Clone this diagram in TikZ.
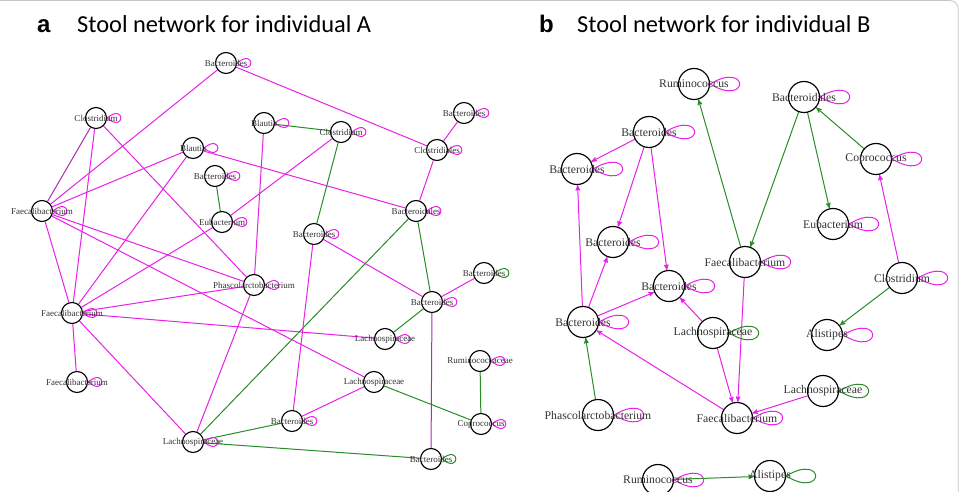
\documentclass[tikz,border=0pt]{standalone}
\usepackage{fontspec}
\setmainfont{Liberation Serif}
\newfontfamily\titlefont{Carlito}
\newfontfamily\panelfont{Liberation Sans}
\usepackage{tikz}
\usetikzlibrary{arrows,backgrounds}
\definecolor{posedge}{RGB}{232,32,232}
\definecolor{negedge}{RGB}{40,140,40}
\definecolor{bothedge}{RGB}{170,45,180}
\definecolor{taxtext}{RGB}{50,50,50}
\tikzset{
    taxon/.style={
           circle,
           draw=black,
           fill=white,
           line width=1.15pt,
           inner sep=0pt,
           },
    taxa/.style={taxon,minimum size=21pt,
           label={[font=\fontsize{9}{9}\selectfont,text=taxtext,inner sep=0pt]center:#1}},
    taxb/.style={taxon,minimum size=31pt,
           label={[font=\fontsize{11.7}{12}\selectfont,text=taxtext,inner sep=0pt]center:#1}},
}

\begin{document}
\begin{tikzpicture}[
  x=1pt,y=-1pt,
  >=stealth',
  every edge/.append style={line width=1pt},
  pe/.style={draw=posedge},
  ne/.style={draw=negedge},
  be/.style={draw=bothedge},
  selfa/.style={out=40,in=-40,min distance=24pt},
  selfb/.style={out=31,in=-31,min distance=46pt},
  heading/.style={anchor=base west,inner sep=0pt}]
\useasboundingbox (0,0) rectangle (961,492);
\draw[gray!45,line width=0.8pt,rounded corners=8pt] (0,0.6) -- (958.2,0.6) -- (958.2,492);

% titles
\node[heading,font=\panelfont\bfseries\fontsize{24}{24}\selectfont](taga) at (37,33){a};
\node[heading,font=\titlefont\fontsize{24.4}{25}\selectfont](titlea) at (77,33){Stool network for individual A};
\node[heading,font=\panelfont\bfseries\fontsize{24}{24}\selectfont](tagb) at (539,33){b};
\node[heading,font=\titlefont\fontsize{24.4}{25}\selectfont](titleb) at (577,33){Stool network for individual B};

% individual A
\node[taxa=Bacteroides](bactA1) at (226,63){};
\node[taxa=Clostridium](closA1) at (96,118){};
\node[taxa=Blautia](blauA1) at (193,148){};
\node[taxa=Bacteroides](bactA2) at (215,176){};
\node[taxa=Eubacterium](eubaA) at (222,222){};
\node[taxa=Blautia](blauA2) at (264,123){};
\node[taxa=Clostridium](closA2) at (341,132){};
\node[taxa=Bacteroides](bactA3) at (464,113){};
\node[taxa=Clostridiales](closalesA) at (437,150){};
\node[taxa=Bacteroidales](bactalesA) at (416,211){};
\node[taxa=Bacteroides](bactA4) at (314,234){};
\node[taxa=Faecalibacterium](faecA1) at (42,211){};
\node[taxa=Faecalibacterium](faecA2) at (72,313){};
\node[taxa=Faecalibacterium](faecA3) at (77,382){};
\node[taxa=Phascolarctobacterium](phasA) at (254,285){};
\node[taxa=Bacteroides](bactA5) at (432,302){};
\node[taxa=Bacteroides](bactA6) at (484,273){};
\node[taxa=Lachnospiraceae](lachA1) at (385,339){};
\node[taxa=Ruminococcaceae](rumiA) at (480,361){};
\node[taxa=Lachnospiraceae](lachA2) at (374,382){};
\node[taxa=Coprococcus](coprA) at (481,424){};
\node[taxa=Bacteroides](bactA7) at (292,421){};
\node[taxa=Lachnospiraceae](lachA3) at (193,442){};
\node[taxa=Bacteroides](bactA8) at (431,459){};

% individual B
\node[taxb=Ruminococcus](rumiB1) at (694,84){};
\node[taxb=Bacteroides](bactB1) at (649,132){};
\node[taxb=Bacteroides](bactB2) at (577,169){};
\node[taxb=Bacteroides](bactB3) at (613,242){};
\node[taxb=Bacteroides](bactB4) at (669,286){};
\node[taxb=Bacteroides](bactB5) at (583,322){};
\node[taxb=Bacteroidales](bactalesB) at (804,97){};
\node[taxb=Coprococcus](coprB) at (876,159){};
\node[taxb=Eubacterium](eubaB) at (833,224){};
\node[taxb=Faecalibacterium](faecB1) at (745,262){};
\node[taxb=Clostridium](closB) at (902,278){};
\node[taxb=Lachnospiraceae](lachB1) at (713,333){};
\node[taxb=Alistipes](alisB1) at (827,335){};
\node[taxb=Lachnospiraceae](lachB2) at (823,391){};
\node[taxb=Phascolarctobacterium](phasB) at (598,415){};
\node[taxb=Faecalibacterium](faecB2) at (737,418){};
\node[taxb=Ruminococcus](rumiB2) at (658,480){};
\node[taxb=Alistipes](alisB2) at (770,476){};

\begin{scope}[on background layer]
\path (faecA1) edge[pe] (bactA1)
      (faecA1) edge[be] (closA1)
      (faecA1) edge[pe] (blauA1)
      (faecA1) edge[pe] (faecA2)
      (faecA1) edge[pe] (phasA)
      (faecA1) edge[pe] (lachA2)
      (faecA2) edge[pe] (closA1)
      (faecA2) edge[pe] (blauA1)
      (faecA2) edge[pe] (eubaA)
      (faecA2) edge[pe] (phasA)
      (faecA2) edge[pe] (lachA1)
      (faecA2) edge[pe] (faecA3)
      (faecA2) edge[pe] (lachA3)
      (closA1) edge[pe] (phasA)
      (bactA1) edge[pe] (closalesA)
      (blauA2) edge[ne] (closA2)
      (blauA2) edge[pe] (phasA)
      (closA2) edge[pe] (eubaA)
      (closA2) edge[ne] (bactA4)
      (blauA1) edge[pe] (bactalesA)
      (bactA2) edge[ne] (eubaA)
      (bactA3) edge[pe] (closalesA)
      (closalesA) edge[pe] (bactalesA)
      (bactalesA) edge[ne] (bactA5)
      (bactalesA) edge[ne] (lachA3)
      (bactA4) edge[pe] (bactA5)
      (bactA4) edge[pe] (bactA7)
      (bactA5) edge[pe] (bactA6)
      (bactA5) edge[ne] (lachA1)
      (bactA5) edge[be] (bactA8)
      (rumiA) edge[ne] (coprA)
      (lachA2) edge[ne] (coprA)
      (lachA2) edge[pe] (bactA7)
      (phasA) edge[pe] (lachA3)
      (lachA3) edge[ne] (bactA7)
      (lachA3) edge[ne] (bactA8);
% self loops, individual A
\path (bactA1.east) edge[selfa,pe] (bactA1.east)
      (closA1.east) edge[selfa,pe] (closA1.east)
      (blauA1.east) edge[selfa,pe] (blauA1.east)
      (bactA2.east) edge[selfa,pe] (bactA2.east)
      (eubaA.east) edge[selfa,pe] (eubaA.east)
      (blauA2.east) edge[selfa,pe] (blauA2.east)
      (closA2.east) edge[selfa,pe] (closA2.east)
      (bactA3.east) edge[selfa,pe] (bactA3.east)
      (closalesA.east) edge[selfa,pe] (closalesA.east)
      (bactalesA.east) edge[selfa,pe] (bactalesA.east)
      (bactA4.east) edge[selfa,pe] (bactA4.east)
      (faecA1.east) edge[selfa,pe] (faecA1.east)
      (faecA2.east) edge[selfa,pe] (faecA2.east)
      (faecA3.east) edge[selfa,pe] (faecA3.east)
      (phasA.east) edge[selfa,pe] (phasA.east)
      (bactA5.east) edge[selfa,pe] (bactA5.east)
      (bactA6.east) edge[selfa,ne] (bactA6.east)
      (lachA1.east) edge[selfa,pe] (lachA1.east)
      (rumiA.east) edge[selfa,pe] (rumiA.east)
      (coprA.east) edge[selfa,pe] (coprA.east)
      (bactA7.east) edge[selfa,pe] (bactA7.east)
      (lachA3.east) edge[selfa,pe] (lachA3.east)
      (bactA8.east) edge[selfa,ne] (bactA8.east);

\path[->] (faecB1) edge[ne] (rumiB1)
      (bactB1) edge[pe] (bactB2)
      (bactB1) edge[pe] (bactB3)
      (bactB1) edge[pe] (bactB4)
      (bactB5) edge[pe] (bactB2)
      (bactB5) edge[pe] (bactB3)
      (bactB5) edge[pe] (bactB4)
      (lachB1) edge[pe] (bactB4)
      (faecB2) edge[pe] (bactB5)
      (phasB) edge[ne] (bactB5)
      (lachB1) edge[pe] (faecB2)
      (faecB1) edge[pe] (faecB2)
      (lachB2) edge[pe] (faecB2)
      (bactalesB) edge[ne] (faecB1)
      (bactalesB) edge[ne] (eubaB)
      (coprB) edge[ne] (bactalesB)
      (closB) edge[pe] (coprB)
      (closB) edge[ne] (alisB1)
      (rumiB2) edge[ne] (alisB2);
% self loops, individual B
\path (rumiB1.east) edge[selfb,pe] (rumiB1.east)
      (bactB1.east) edge[selfb,pe] (bactB1.east)
      (bactB2.east) edge[selfb,pe] (bactB2.east)
      (bactB3.east) edge[selfb,pe] (bactB3.east)
      (bactB4.east) edge[selfb,pe] (bactB4.east)
      (bactB5.east) edge[selfb,pe] (bactB5.east)
      (bactalesB.east) edge[selfb,pe] (bactalesB.east)
      (coprB.east) edge[selfb,pe] (coprB.east)
      (eubaB.east) edge[selfb,pe] (eubaB.east)
      (faecB1.east) edge[selfb,pe] (faecB1.east)
      (closB.east) edge[selfb,pe] (closB.east)
      (lachB1.east) edge[selfb,ne] (lachB1.east)
      (alisB1.east) edge[selfb,pe] (alisB1.east)
      (lachB2.east) edge[selfb,ne] (lachB2.east)
      (phasB.east) edge[selfb,pe] (phasB.east)
      (faecB2.east) edge[selfb,pe] (faecB2.east)
      (rumiB2.east) edge[selfb,pe] (rumiB2.east)
      (alisB2.east) edge[selfb,ne] (alisB2.east);
\end{scope}
\end{tikzpicture}
\end{document}
